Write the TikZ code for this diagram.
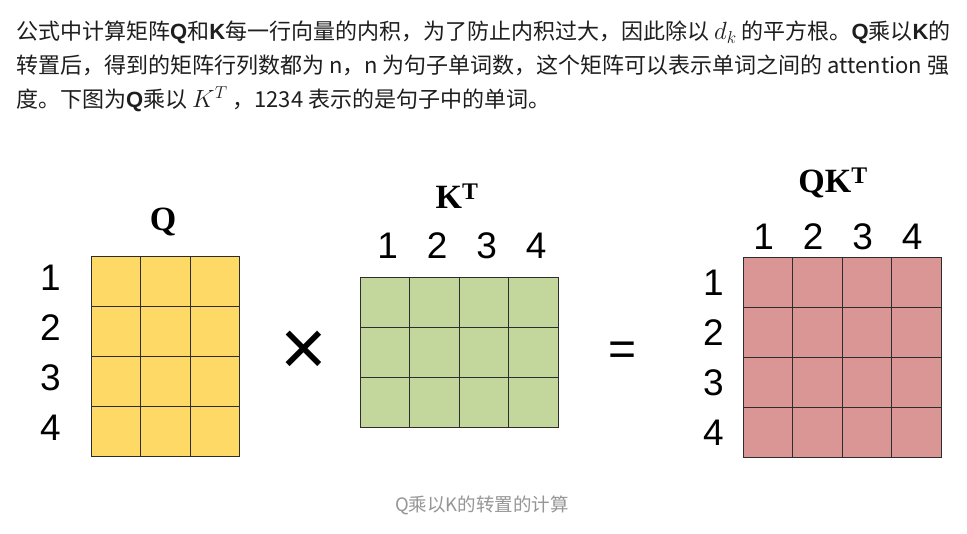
\documentclass[tikz,border=0pt]{standalone}
\usepackage{fontspec}
\setmainfont{Noto Sans CJK SC}
\newfontfamily\arialf{Liberation Sans}
\newfontfamily\timesf{Liberation Serif}
\usetikzlibrary{positioning}
\definecolor{qYel}{RGB}{255,217,102}
\definecolor{kGrn}{RGB}{195,214,155}
\definecolor{sRed}{RGB}{217,150,148}
\definecolor{gridline}{RGB}{45,45,45}
\definecolor{bodytext}{RGB}{30,30,30}
\definecolor{captext}{RGB}{150,150,150}
\newcommand{\bl}[1]{{\arialf\bfseries #1}}

\begin{document}
\begin{tikzpicture}[x=1pt, y=-1pt,
  cell/.style={draw=gridline, line width=0.9pt, minimum width=49.5pt, minimum height=50pt, inner sep=0pt, outer sep=0pt},
  idx/.style={font=\arialf\fontsize{37}{37}\selectfont, inner sep=0pt},
  mname/.style={font=\timesf\bfseries\fontsize{34}{34}\selectfont, inner sep=0pt},
  para/.style={anchor=base west, inner sep=0pt, text=bodytext, font=\fontsize{22}{26}\selectfont}
]
  \useasboundingbox[fill=white] (0,0) rectangle (967,534);

  \node[para] (line1) at (16,40) {公式中计算矩阵\bl{Q}和\bl{K}每一行向量的内积，为了防止内积过大，因此除以 {\fontsize{26}{26}\selectfont$d_k$} 的平方根。\bl{Q}乘以\bl{K}的};
  \node[para] (line2) at (16,74) {转置后，得到的矩阵行列数都为 n，n 为句子单词数，这个矩阵可以表示单词之间的 attention 强};
  \node[para] (line3) at (16,108) {度。下图为\bl{Q}乘以 {\fontsize{27}{27}\selectfont$K^T$} ，1234 表示的是句子中的单词。};

  \foreach \r in {1,...,4}
    \foreach \c in {1,2,3}
      \node[cell, fill=qYel] (q-\r-\c) at ({91+49.5*(\c-0.5)}, {256+50*(\r-0.5)}) {};
  \foreach \r in {1,2,3}
    \foreach \c in {1,...,4}
      \node[cell, fill=kGrn] (k-\r-\c) at ({360+49.5*(\c-0.5)}, {277+50*(\r-0.5)}) {};
  \foreach \r in {1,...,4}
    \foreach \c in {1,...,4}
      \node[cell, fill=sRed] (s-\r-\c) at ({743+49.5*(\c-0.5)}, {257+50*(\r-0.5)}) {};

  \foreach \i in {1,...,4} {
    \node[idx, left=30pt of q-\i-1, yshift=3pt] (qrow\i) {\i};
    \node[idx, above=18pt of k-1-\i, xshift=3pt] (kcol\i) {\i};
    \node[idx, above=7pt of s-1-\i, xshift=-4pt] (scol\i) {\i};
    \node[idx, left=19pt of s-\i-1, yshift=-1pt] (srow\i) {\i};
  }

  \node[mname] (qname) at (163,222) {Q};
  \node[mname] (kname) at (457,196) {K\textsuperscript{T}};
  \node[mname] (sname) at (833,183) {QK\textsuperscript{T}};

  \node[font=\arialf\fontsize{80}{80}\selectfont, inner sep=0pt] (times) at (304,353) {×};
  \node[font=\arialf\fontsize{48}{48}\selectfont, inner sep=0pt] (equals) at (623,354) {=};

  \node[text=captext, font=\fontsize{18.5}{22}\selectfont] (caption) at (482,505) {Q乘以K的转置的计算};
\end{tikzpicture}
\end{document}
